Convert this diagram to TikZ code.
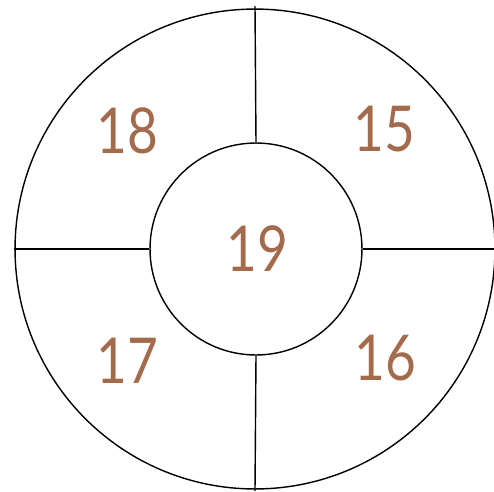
\documentclass[tikz,border=0pt]{standalone}
\usepackage{fontspec}
\setmainfont{Lato}
\newfontfamily\numfont[FakeStretch=0.84]{Lato}
\usepackage{xcolor}
\usetikzlibrary{positioning}
\definecolor{numbrown}{HTML}{A46A4C}

\begin{document}
\begin{tikzpicture}[x=0.02cm,y=-0.02cm,
        ring/.style={draw,circle,line width=0.8pt,inner sep=0pt},
        spoke/.style={line width=0.8pt},
        num/.style={text=numbrown,font=\numfont\fontsize{36}{36}\selectfont}]
        \useasboundingbox (0,0) rectangle (494,491);
        \clip (0,0) rectangle (494,491);
        \node[ring,minimum size=9.6cm] (outer) at (255,249) {};
        \node[ring,minimum size=4.24cm] (inner) at (256,249) {};
        \coordinate (top) at (255,6);
        \coordinate (bottom) at (255,491);
        \coordinate (left) at (outer.west);
        \coordinate (right) at (494,249);

        \draw[spoke] (top) -- (inner.north);
        \draw[spoke] (inner.south) -- (bottom);
        \draw[spoke] (left) -- (inner.west);
        \draw[spoke] (inner.east) -- (right);

        \node[num] (n19) at (257,249) {19};
        \node[num] (n18) at (127,131) {18};
        \node[num] (n15) at (384,129) {15};
        \node[num] (n17) at (127,361) {17};
        \node[num] (n16) at (385,358) {16};
    \end{tikzpicture}
\end{document}
